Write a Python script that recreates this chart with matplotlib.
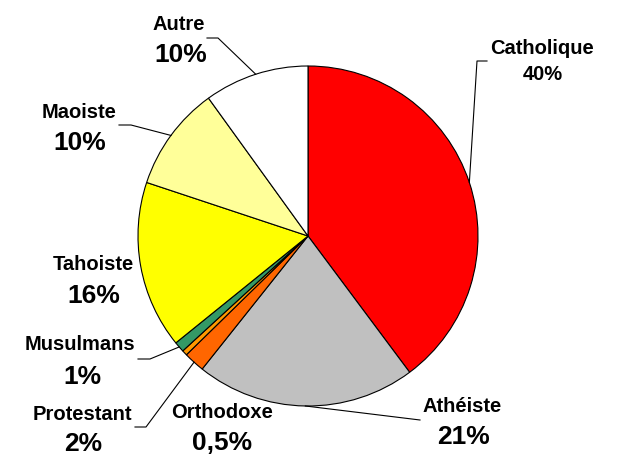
"""
Camembert : répartition des religions
"""

import numpy as np
import matplotlib
matplotlib.use("Agg")
import matplotlib.pyplot as plt

plt.rcParams["font.family"] = ["Liberation Sans", "DejaVu Sans"]

# ── Données ──
religions = ["Catholique", "Athéiste", "Protestant", "Orthodoxe",
             "Musulmans", "Tahoiste", "Maoiste", "Autre"]
parts     = [40, 21, 2, 0.5, 1, 16, 10, 10]
pct_texts = ["40%", "21%", "2%", "0,5%", "1%", "16%", "10%", "10%"]
couleurs  = ["#FF0000", "#C0C0C0", "#FF6600", "#FF9900",
             "#339966", "#FFFF00", "#FFFF99", "#FFFFFF"]

# ── Mise en page (pixels, y vers le bas) ──
W, H = 624, 468
centre = (308, 236)
rayon = 170
# position du nom, position du pourcentage, taille du pourcentage
etiquettes = {
    "Catholique": ((542, 48), (543, 74), 14.5),
    "Athéiste":   ((462, 406), (463, 437), 19),
    "Protestant": ((82, 414), (83, 444), 19),
    "Orthodoxe":  ((222, 412), (222, 443), 19),
    "Musulmans":  ((80, 345), (82, 377), 19),
    "Tahoiste":   ((93, 264), (94, 296), 19),
    "Maoiste":    ((79, 112), (80, 143), 19),
    "Autre":      ((179, 25), (181, 55), 19),
}
# lignes de rappel : début horizontal, coude
rappels = {
    "Catholique": ((487, 61), (477, 61)),
    "Athéiste":   ((420, 420), (420, 420)),
    "Protestant": ((135, 427), (146, 427)),
    "Musulmans":  ((138, 359), (150, 359)),
    "Maoiste":    ((119, 125), (131, 125)),
    "Autre":      ((207, 38), (218, 38)),
}

fig = plt.figure(figsize=(6.24, 4.68), dpi=100)
ax = fig.add_axes([0, 0, 1, 1])

# axe y inversé : startangle=-90 => en haut, counterclock=True => sens horaire
wedges, _ = ax.pie(parts, colors=couleurs, startangle=-90, counterclock=True,
                   center=centre, radius=rayon, frame=True,
                   wedgeprops=dict(edgecolor="black", linewidth=0.8))
ax.set_xlim(0, W)
ax.set_ylim(H, 0)
ax.set_aspect("equal")
ax.axis("off")

for w, nom, pct in zip(wedges, religions, pct_texts):
    (nx, ny), (px, py), taille = etiquettes[nom]
    ax.text(nx, ny, nom, ha="center", va="center", fontsize=14.5,
            fontweight="bold")
    ax.text(px, py, pct, ha="center", va="center", fontsize=taille,
            fontweight="bold")
    if nom in rappels:
        ang = np.deg2rad((w.theta1 + w.theta2) / 2)
        bord = (centre[0] + rayon * np.cos(ang), centre[1] + rayon * np.sin(ang))
        (x0, y0), (x1, y1) = rappels[nom]
        ax.plot([x0, x1, bord[0]], [y0, y1, bord[1]], color="black",
                linewidth=0.8)

fig.savefig("out.png", dpi=100)
plt.close(fig)
